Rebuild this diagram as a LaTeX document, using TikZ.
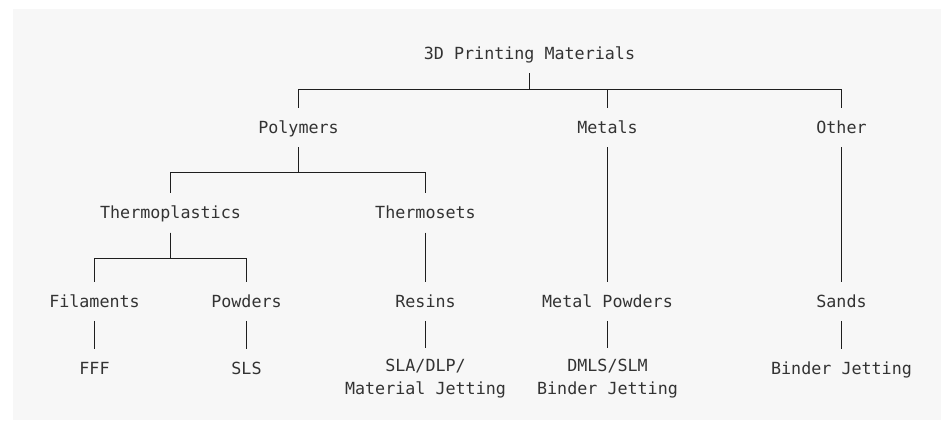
\documentclass[tikz,border=0pt]{standalone}
\usepackage{fontspec}
\setmonofont{DejaVu Sans Mono}
\definecolor{bg}{HTML}{F7F7F7}
\definecolor{txt}{HTML}{333333}
\definecolor{ln}{HTML}{1E1E1E}
\begin{document}
\begin{tikzpicture}[x=1pt,y=-1pt,
  lbl/.style={font=\ttfamily\fontsize{16.7}{23.6}\selectfont, text=txt, inner sep=0pt,
              text height=12.2pt, text depth=0pt, minimum height=39pt},
  lbltwo/.style={lbl, text depth=23.6pt, minimum height=57pt},
  conn/.style={draw=ln, line width=1.1pt}]
\useasboundingbox (0,0) rectangle (941,430);
\fill[bg] (13,9) rectangle (941,420);
% level 0
\node[lbl] (root) at (529.5,53.8) {3D Printing Materials};
% level 1
\node[lbl] (poly) at (298.5,127.5) {Polymers};
\node[lbl] (metals) at (607.5,127.5) {Metals};
\node[lbl] (other) at (841.5,127.5) {Other};
% level 2
\node[lbl] (tplast) at (170.5,212.8) {Thermoplastics};
\node[lbl] (tset) at (425.5,212.8) {Thermosets};
% level 3
\node[lbl] (fil) at (94.5,301.2) {Filaments};
\node[lbl] (pow) at (246.5,301.2) {Powders};
\node[lbl] (res) at (425.5,301.2) {Resins};
\node[lbl] (mpow) at (607.5,301.2) {Metal Powders};
\node[lbl] (sands) at (841.5,301.2) {Sands};
% level 4
\node[lbl] (fff) at (94.5,368.8) {FFF};
\node[lbl] (sls) at (246.5,368.8) {SLS};
\node[lbltwo] (sla) at (425.5,376.8) {\begin{tabular}[t]{@{}c@{}}SLA/DLP/\\Material Jetting\end{tabular}};
\node[lbltwo] (dmls) at (607.5,376.8) {\begin{tabular}[t]{@{}c@{}}DMLS/SLM\\Binder Jetting\end{tabular}};
\node[lbl] (bj) at (841.5,368.8) {Binder Jetting};
% connectors
\draw[conn] (root.south) -- ++(0,16.2) -| (poly.north);
\draw[conn] (root.south) -- ++(0,16.2) -| (metals.north);
\draw[conn] (root.south) -- ++(0,16.2) -| (other.north);
\draw[conn] (poly.south) -- ++(0,25.5) -| (tplast.north);
\draw[conn] (poly.south) -- ++(0,25.5) -| (tset.north);
\draw[conn] (tplast.south) -- ++(0,26.2) -| (fil.north);
\draw[conn] (tplast.south) -- ++(0,26.2) -| (pow.north);
\draw[conn] (tset.south) -- (res.north);
\draw[conn] (metals.south) -- (mpow.north);
\draw[conn] (other.south) -- (sands.north);
\draw[conn] (fil.south) -- (fff.north);
\draw[conn] (pow.south) -- (sls.north);
\draw[conn] (res.south) -- (sla.north);
\draw[conn] (mpow.south) -- (dmls.north);
\draw[conn] (sands.south) -- (bj.north);
\end{tikzpicture}
\end{document}
